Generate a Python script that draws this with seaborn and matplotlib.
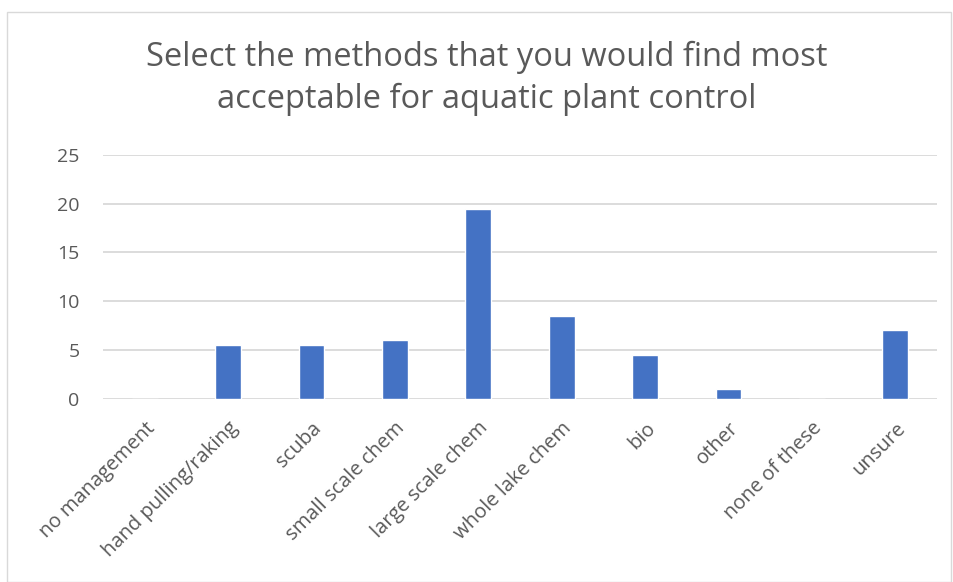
import matplotlib
matplotlib.use('Agg')
import matplotlib.pyplot as plt
import seaborn as sns
import pandas as pd
from matplotlib.patches import Rectangle

# Survey answers
methods = ['no management', 'hand pulling/raking', 'scuba', 'small scale chem',
           'large scale chem', 'whole lake chem', 'bio', 'other', 'none of these', 'unsure']
counts = [0, 5.5, 5.5, 6, 19.5, 8.5, 4.5, 1, 0, 7]
y_ticks = [0, 5, 10, 15, 20, 25]

df = pd.DataFrame({'method': methods, 'count': counts})

sns.set_theme(style='white')
plt.rcParams['font.family'] = ['Open Sans', 'DejaVu Sans']
TEXT = '#595959'

fig = plt.figure(figsize=(9.54, 5.82), dpi=100)
ax = fig.add_axes([103 / 954, 1 - 398.7 / 582, 834 / 954, (398.7 - 155) / 582])

sns.barplot(data=df, x='method', y='count', color='#4472C4', width=0.31,
            saturation=1, ax=ax)

ax.set_ylim(0, 25)
ax.set_xlim(-0.5, len(methods) - 0.5)
ax.set_yticks(y_ticks)
ax.set_yticklabels([str(t) for t in y_ticks], color=TEXT, fontsize=14)
ax.yaxis.grid(True, color='#D9D9D9', linewidth=1.3)
ax.set_axisbelow(True)
for s in ax.spines.values():
    s.set_visible(False)
ax.tick_params(axis='both', length=0)
ax.tick_params(axis='y', pad=17)
ax.set_xticks(range(len(methods)))
ax.set_xticklabels(methods, rotation=45, ha='right', rotation_mode='anchor',
                   color=TEXT, fontsize=14.5)
ax.tick_params(axis='x', pad=14)
ax.set_xlabel('')
ax.set_ylabel('')

fig.text(487 / 954, 1 - 78 / 582,
         'Select the methods that you would find most\nacceptable for aquatic plant control',
         ha='center', va='center', fontsize=23.5, color=TEXT, linespacing=1.35)

fig.patches.append(Rectangle((7 / 954, 0.5 / 582), 944 / 954, 570 / 582,
                             transform=fig.transFigure, fill=False,
                             edgecolor='#D9D9D9', linewidth=1))

fig.savefig('out.png', dpi=100, facecolor='white')
